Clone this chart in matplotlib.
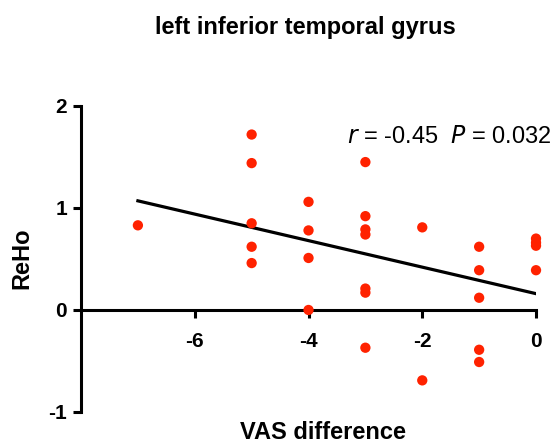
import matplotlib.pyplot as plt

plt.rcParams["font.family"] = ["Liberation Sans", "DejaVu Sans"]
plt.rcParams["axes.unicode_minus"] = False

# VAS difference vs ReHo values
vas = [-7,
       -5, -5, -5, -5, -5,
       -4, -4, -4, -4,
       -3, -3, -3, -3, -3, -3, -3,
       -2, -2,
       -1, -1, -1, -1, -1,
       0, 0, 0, 0]
reho = [0.83,
        1.72, 1.44, 0.85, 0.62, 0.46,
        1.06, 0.78, 0.51, 0.0,
        1.45, 0.92, 0.79, 0.74, 0.21, 0.17, -0.37,
        0.81, -0.69,
        0.62, 0.39, 0.12, -0.39, -0.51,
        0.70, 0.66, 0.63, 0.39]

fit_x = [-7, 0]
fit_y = [1.07, 0.16]

x_ticks = [-6, -4, -2, 0]
y_ticks = [-1, 0, 1, 2]

fig = plt.figure(figsize=(5.58, 4.44), dpi=100)
ax = fig.add_axes([0.1452, 0.0721, 0.8154, 0.6892])

ax.plot(fit_x, fit_y, color="black", linewidth=2.3, zorder=2)
ax.scatter(vas, reho, s=55, color="#ff2200", edgecolors="none", zorder=3, clip_on=False)

ax.set_xlim(-8, 0)
ax.set_ylim(-1, 2)
ax.set_xticks(x_ticks)
ax.set_yticks(y_ticks)

for side in ["top", "right"]:
    ax.spines[side].set_visible(False)
ax.spines["bottom"].set_position(("data", 0))
for side in ["left", "bottom"]:
    ax.spines[side].set_linewidth(2.2)

ax.tick_params(axis="both", width=2.2, length=6, labelsize=15, pad=4)
ax.tick_params(axis="x", pad=10)
for label in ax.get_xticklabels() + ax.get_yticklabels():
    label.set_fontweight("bold")

ax.text(0.28, 1.70, r"$\it{r}$ = -0.45  $\it{P}$ = 0.032", fontsize=17,
        ha="right", va="center")

fig.text(0.547, 0.937, "left inferior temporal gyrus", fontsize=17,
         fontweight="bold", ha="center", va="center")
fig.text(0.579, 0.027, "VAS difference", fontsize=17, fontweight="bold",
         ha="center", va="center")
fig.text(0.039, 0.419, "ReHo", fontsize=17, fontweight="bold",
         ha="center", va="center", rotation=90)

fig.savefig("out.png", dpi=100)
